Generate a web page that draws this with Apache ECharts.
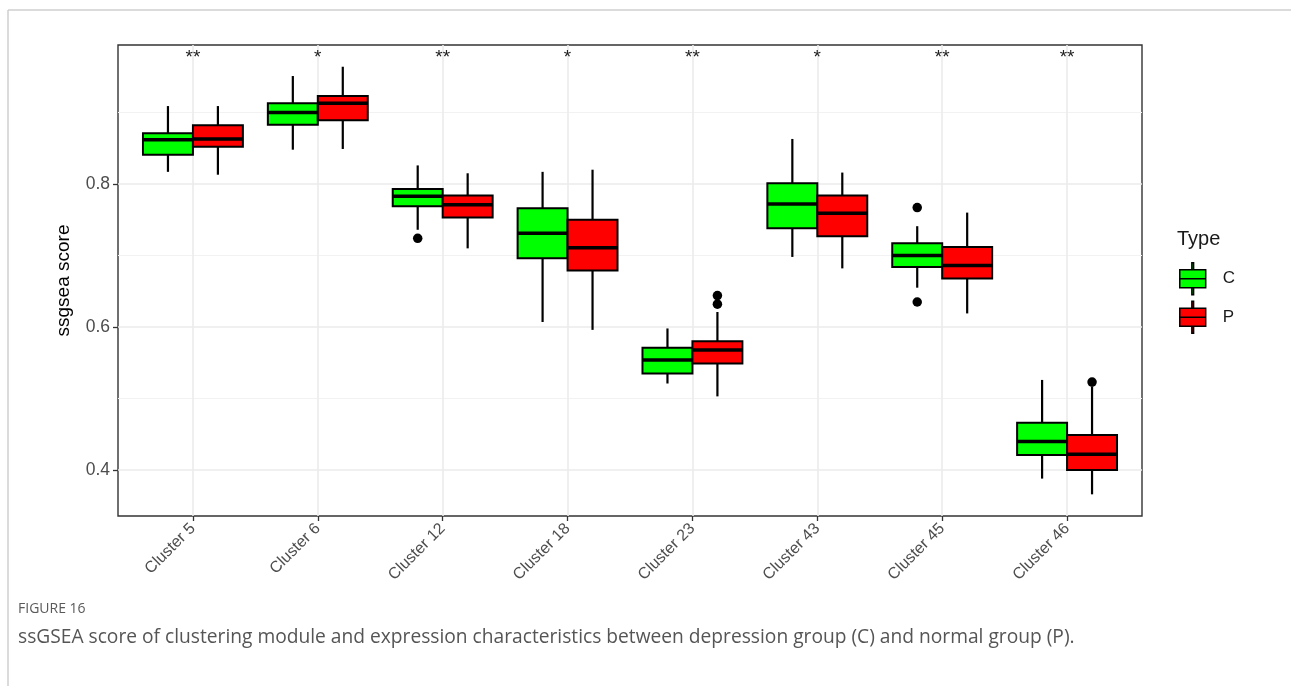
<!DOCTYPE html>
<html>
<head>
<meta charset="utf-8">
<script src="https://cdn.jsdelivr.net/npm/echarts@6/dist/echarts.min.js"></script>
<style>
  html, body { margin: 0; padding: 0; background: #fff; }
  #chart { width: 1291px; height: 686px; }
</style>
</head>
<body>
<div id="chart"></div>
<script>
// categories and significance marks
const categories = ['Cluster 5', 'Cluster 6', 'Cluster 12', 'Cluster 18', 'Cluster 23', 'Cluster 43', 'Cluster 45', 'Cluster 46']
const signif = ['**', '*', '**', '*', '**', '*', '**', '**']

// [min, Q1, median, Q3, max] per cluster
const boxC = [
  [0.817, 0.841, 0.862, 0.871, 0.909],
  [0.848, 0.883, 0.900, 0.913, 0.951],
  [0.736, 0.769, 0.783, 0.793, 0.826],
  [0.607, 0.696, 0.731, 0.766, 0.817],
  [0.521, 0.535, 0.554, 0.571, 0.598],
  [0.698, 0.738, 0.772, 0.801, 0.863],
  [0.655, 0.684, 0.700, 0.717, 0.741],
  [0.388, 0.421, 0.440, 0.466, 0.526]
]
const boxP = [
  [0.813, 0.852, 0.863, 0.882, 0.909],
  [0.849, 0.889, 0.913, 0.923, 0.964],
  [0.710, 0.753, 0.771, 0.784, 0.815],
  [0.596, 0.679, 0.711, 0.750, 0.820],
  [0.503, 0.549, 0.568, 0.580, 0.621],
  [0.682, 0.727, 0.759, 0.784, 0.816],
  [0.619, 0.668, 0.686, 0.712, 0.760],
  [0.366, 0.400, 0.422, 0.449, 0.517]
]
// outliers: [cluster index, value]
const outC = [[2, 0.724], [6, 0.767], [6, 0.635]]
const outP = [[4, 0.644], [4, 0.632], [7, 0.523]]

const yTicks = [0.4, 0.6, 0.8]
const yMinor = [0.5, 0.7, 0.9]
const yMin = 0.3357, yMax = 0.9944

const GREEN = '#00ff00', RED = '#ff0000'
const FONT = 'Liberation Sans'

function boxRender(offset, color) {
  return function (params, api) {
    const i = api.value(0)
    const half = api.size([0.2, 0])[0]
    const xc = api.coord([i + offset, api.value(3)])[0]
    const pMin = api.coord([i, api.value(1)])[1]
    const pQ1 = api.coord([i, api.value(2)])[1]
    const pMed = api.coord([i, api.value(3)])[1]
    const pQ3 = api.coord([i, api.value(4)])[1]
    const pMax = api.coord([i, api.value(5)])[1]
    const line = { stroke: '#000', lineWidth: 2.2 }
    return {
      type: 'group',
      children: [
        { type: 'line', shape: { x1: xc, y1: pMax, x2: xc, y2: pQ3 }, style: line },
        { type: 'line', shape: { x1: xc, y1: pQ1, x2: xc, y2: pMin }, style: line },
        { type: 'rect', shape: { x: xc - half, y: pQ3, width: 2 * half, height: pQ1 - pQ3 },
          style: { fill: color, stroke: '#000', lineWidth: 2 } },
        { type: 'line', shape: { x1: xc - half, y1: pMed, x2: xc + half, y2: pMed },
          style: { stroke: '#000', lineWidth: 3.5 } }
      ]
    }
  }
}

const legendIcon = 'path://M14,0h2v8h-2Z M0,8h30v10.5h-30Z M0,18.5h30v10.5h-30Z M14,29h2v8h-2Z'

const option = {
  animation: false,
  textStyle: { fontFamily: FONT },
  title: [
    { text: 'Type', left: 1177, top: 229, padding: 0, textStyle: { fontFamily: FONT, fontSize: 20, fontWeight: 'normal', color: '#1a1a1a' } },
    { text: 'FIGURE 16', left: 18, top: 602, padding: 0, textStyle: { fontFamily: 'Open Sans', fontSize: 14, fontWeight: 'normal', color: '#5a5a5a' } },
    { text: 'ssGSEA score of clustering module and expression characteristics between depression group (C) and normal group (P).',
      left: 18, top: 628, padding: 0, textStyle: { fontFamily: 'Open Sans', fontSize: 19.2, fontWeight: 'normal', color: '#555' } }
  ],
  graphic: [
    { type: 'line', shape: { x1: 8, y1: 10, x2: 1291, y2: 10 }, style: { stroke: '#cfcfcf', lineWidth: 1.5 } },
    { type: 'line', shape: { x1: 8, y1: 10, x2: 8, y2: 686 }, style: { stroke: '#cfcfcf', lineWidth: 1.5 } }
  ],
  legend: {
    orient: 'vertical', left: 1179, top: 262, padding: 0,
    itemWidth: 30, itemHeight: 32, itemGap: 5,
    textStyle: { fontFamily: FONT, fontSize: 17, color: '#1a1a1a', padding: [0, 0, 0, 10] },
    data: [
      { name: 'C', icon: legendIcon, itemStyle: { color: GREEN, borderColor: '#000', borderWidth: 1.5 } },
      { name: 'P', icon: legendIcon, itemStyle: { color: RED, borderColor: '#000', borderWidth: 1.5 } }
    ]
  },
  grid: {
    left: 118, top: 45, right: 149, bottom: 170,
    show: true, borderColor: '#333', borderWidth: 1.4, backgroundColor: 'transparent'
  },
  xAxis: {
    type: 'value', min: -0.6, max: 7.6,
    axisLine: { show: false, onZero: false },
    axisTick: { show: true, length: 5, customValues: categories.map((c, i) => i), lineStyle: { color: '#333', width: 1.3 } },
    axisLabel: {
      customValues: categories.map((c, i) => i),
      formatter: v => categories[Math.round(v)],
      rotate: 45, fontSize: 16, color: '#4d4d4d', fontFamily: FONT, margin: 10
    },
    splitLine: { show: true, lineStyle: { color: '#ebebeb', width: 1.6 } }
  },
  yAxis: [
    {
      type: 'value', min: yMin, max: yMax,
      axisLine: { show: false, onZero: false },
      axisTick: { show: true, length: 5, customValues: yTicks, lineStyle: { color: '#333', width: 1.3 } },
      axisLabel: { customValues: yTicks, formatter: v => v.toFixed(1), fontSize: 17.5, color: '#4d4d4d', fontFamily: FONT, margin: 8 },
      splitLine: { show: true, lineStyle: { color: '#ebebeb', width: 1.6 } },
      name: 'ssgsea score', nameLocation: 'middle', nameGap: 45, nameRotate: 90,
      nameTextStyle: { fontSize: 19, color: '#000', fontFamily: FONT }
    },
    {
      type: 'value', min: yMin, max: yMax,
      axisLine: { show: false, onZero: false }, axisLabel: { show: false },
      axisTick: { show: false, customValues: yMinor },
      splitLine: { show: true, lineStyle: { color: '#f2f2f2', width: 1 } }
    }
  ],
  series: [
    {
      name: 'C', type: 'custom', itemStyle: { color: GREEN },
      renderItem: boxRender(-0.2, GREEN),
      encode: { x: 0, y: [1, 2, 3, 4, 5] },
      data: boxC.map((b, i) => [i].concat(b)), z: 5
    },
    {
      name: 'P', type: 'custom', itemStyle: { color: RED },
      renderItem: boxRender(0.2, RED),
      encode: { x: 0, y: [1, 2, 3, 4, 5] },
      data: boxP.map((b, i) => [i].concat(b)), z: 5
    },
    {
      type: 'scatter', symbolSize: 9.5, itemStyle: { color: '#000', opacity: 1 }, z: 6,
      data: outC.map(d => [d[0] - 0.2, d[1]])
    },
    {
      type: 'scatter', symbolSize: 9.5, itemStyle: { color: '#000', opacity: 1 }, z: 6,
      data: outP.map(d => [d[0] + 0.2, d[1]])
    },
    {
      type: 'custom', z: 6,
      data: signif.map((s, i) => [i, yMax]),
      renderItem: function (params, api) {
        const p = api.coord([api.value(0), api.value(1)])
        return {
          type: 'text',
          style: { x: p[0], y: p[1] + 3, text: signif[params.dataIndex], align: 'center', verticalAlign: 'top',
            fontSize: 19, fontFamily: FONT, fill: '#222' }
        }
      }
    }
  ]
}

const chart = echarts.init(document.getElementById('chart'))
chart.setOption(option)
</script>
</body>
</html>
